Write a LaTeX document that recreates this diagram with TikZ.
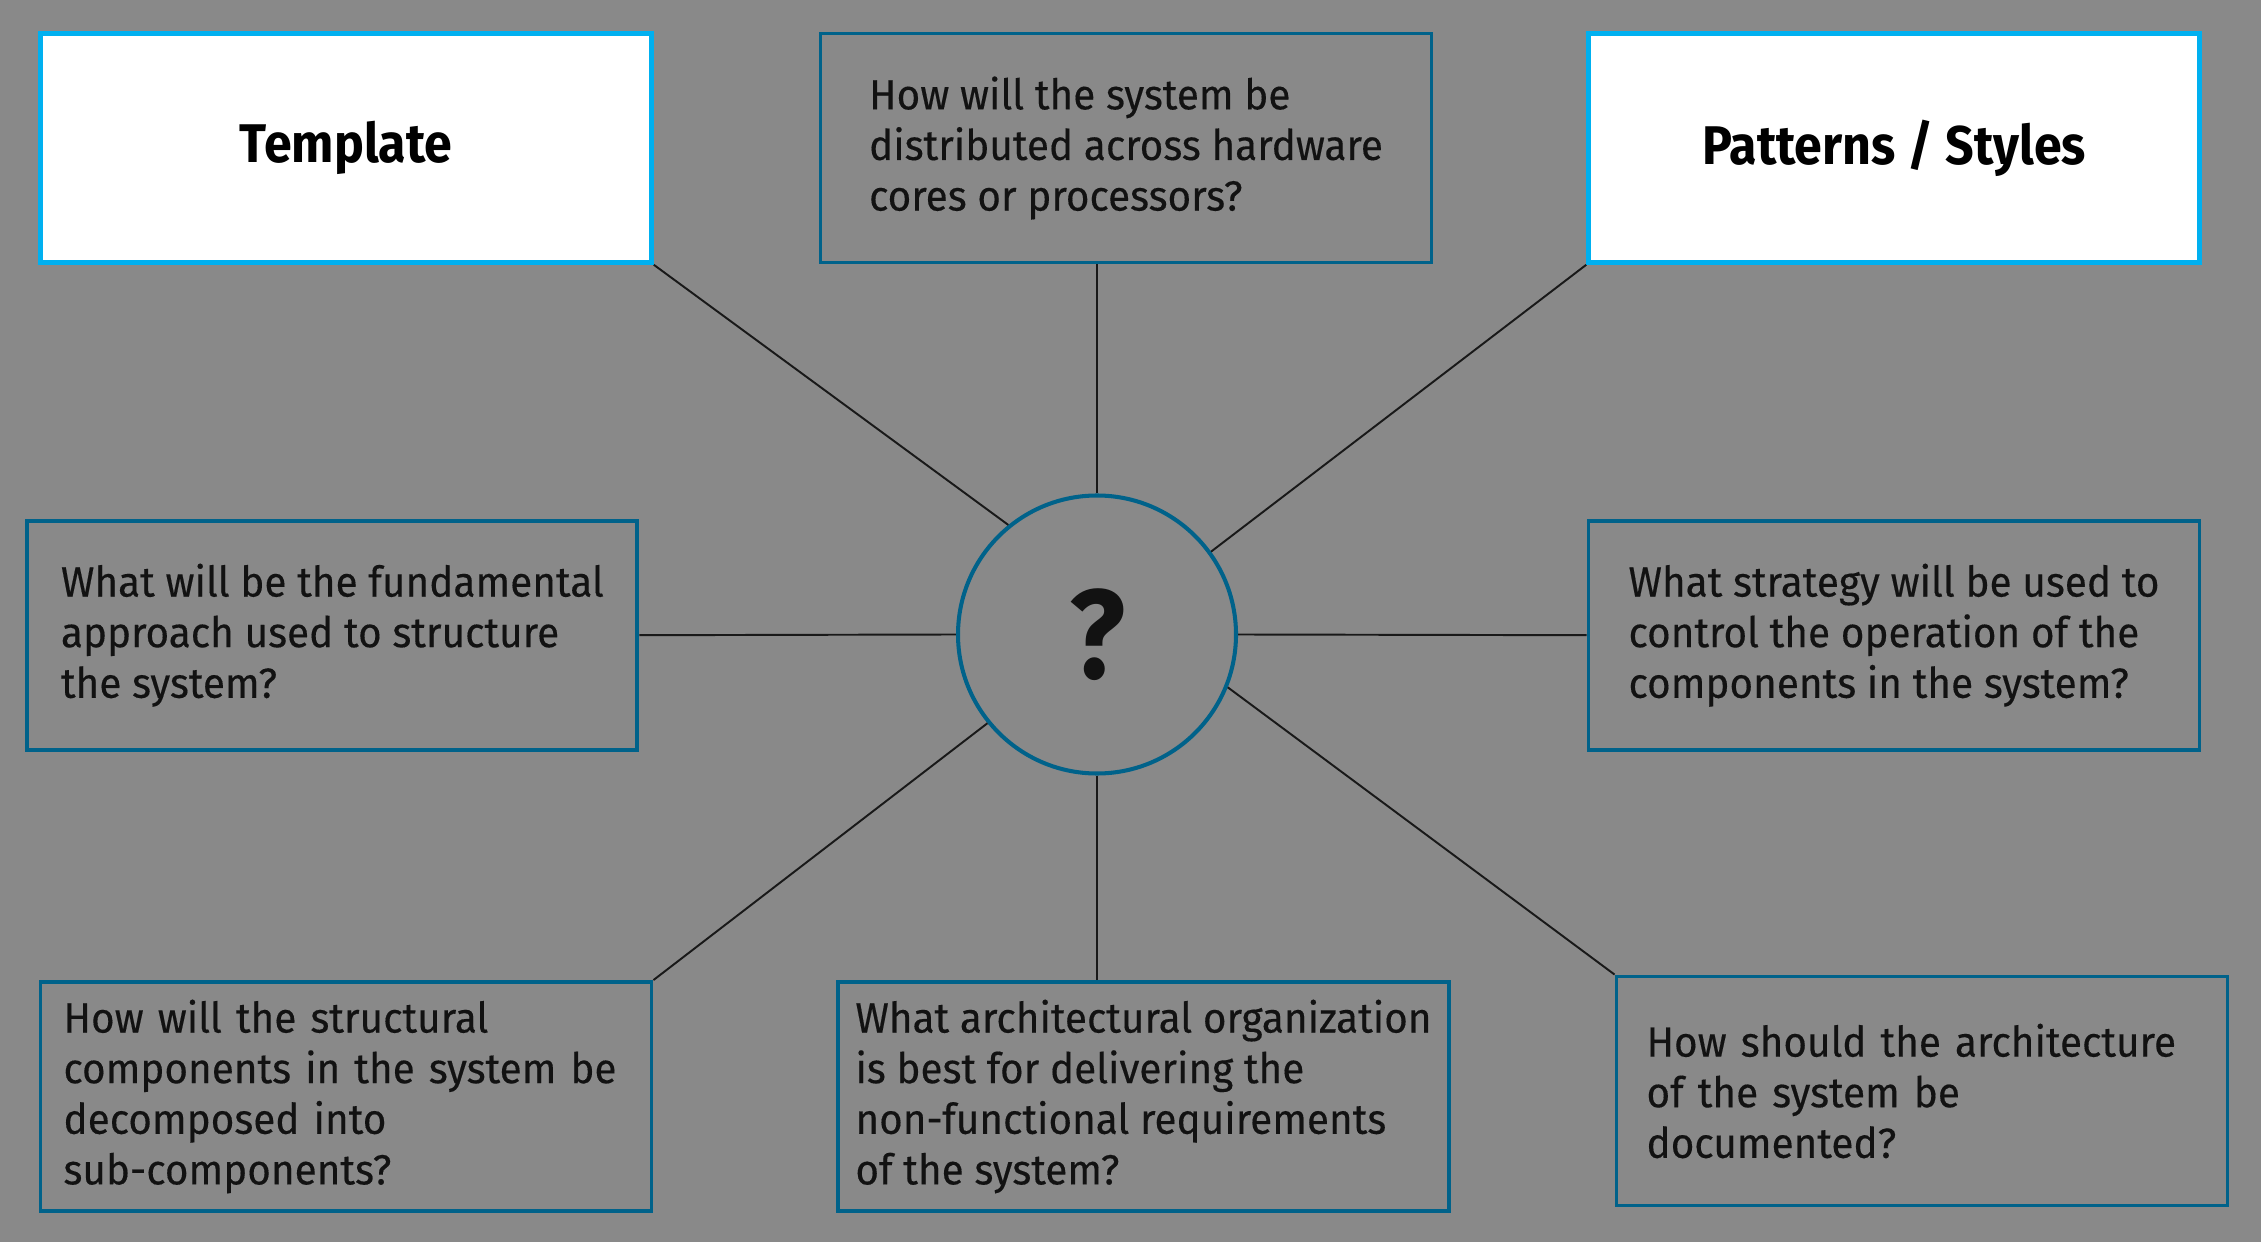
\documentclass[tikz,border=0pt]{standalone}
\usepackage{fontspec}
\setmainfont{Fira Sans}
\newfontfamily\qfont{Fira Sans}[FakeStretch=0.96,FakeBold=0.3]
\newfontfamily\keyfont{Fira Sans}[FakeStretch=0.92]
\usetikzlibrary{positioning}
\definecolor{bggray}{RGB}{137,137,137}
\definecolor{boxblue}{RGB}{0,98,138}
\definecolor{keycyan}{RGB}{0,176,240}

\begin{document}
\begin{tikzpicture}[y=-1cm,
    qbox/.style={draw=boxblue,line width=1.1pt,minimum width=6.11cm,minimum height=2.29cm,
      align=left,font=\qfont\fontsize{12}{14.4}\selectfont,text=black!93},
    keybox/.style={draw=keycyan,fill=white,line width=1.3pt,minimum width=6.11cm,minimum height=2.29cm,
      font=\keyfont\fontsize{15.5}{18}\selectfont\bfseries},
    spoke/.style={line width=0.55pt,black!90}]
  \fill[bggray] (0,0) rectangle (22.61,12.42);
  \useasboundingbox (0,0) rectangle (22.61,12.42);

  % hub
  \node[circle,draw=boxblue,line width=1.15pt,minimum size=2.78cm,
        font=\keyfont\fontsize{36}{40}\selectfont\bfseries,text=black!93] (q) at (10.97,6.345) {\raisebox{-0.8mm}{?}};

  % top row
  \node[keybox] (tpl) at (3.46,1.48) {Template};
  \node[qbox] (dist) at (11.26,1.48) {How will the system be\\distributed across hardware\\cores or processors?};
  \node[keybox] (pat) at (18.94,1.48) {Patterns / Styles};

  % middle row
  \node[qbox,minimum width=6.10cm] (struct) at (3.324,6.352) {What will be the fundamental\\approach used to structure\\the system?};
  \node[qbox] (ctrl) at (18.94,6.352) {What strategy will be used to\\control the operation of the\\components in the system?};

  % bottom row
  \node[qbox,text width=5.65cm] (decomp) at (3.46,10.965) {How will the structural\\components in the system be\\decomposed into\\sub-components?};
  \node[qbox] (nonfunc) at (11.435,10.965) {What architectural organization\\is best for delivering the\\non-functional requirements\\of the system?};
  \node[qbox,text width=5.51cm] (doc) at (19.22,10.91) {How should the architecture\\of the system be\\documented?};

  % spokes, meeting the hub off its centre as drawn
  \draw[spoke] (tpl.south east) -- (q.129.5);
  \draw[spoke] (q.north) -- (q |- dist.south);
  \draw[spoke] (pat.south west) -- (q.36);
  \draw[spoke] (struct.east) -- (q.west);
  \draw[spoke] (ctrl.west) -- (q.east);
  \draw[spoke] (decomp.north east) -- (q.219);
  \draw[spoke] (q.south) -- (q |- nonfunc.north);
  \draw[spoke] (doc.north west) -- (q.-22.7);
\end{tikzpicture}
\end{document}
